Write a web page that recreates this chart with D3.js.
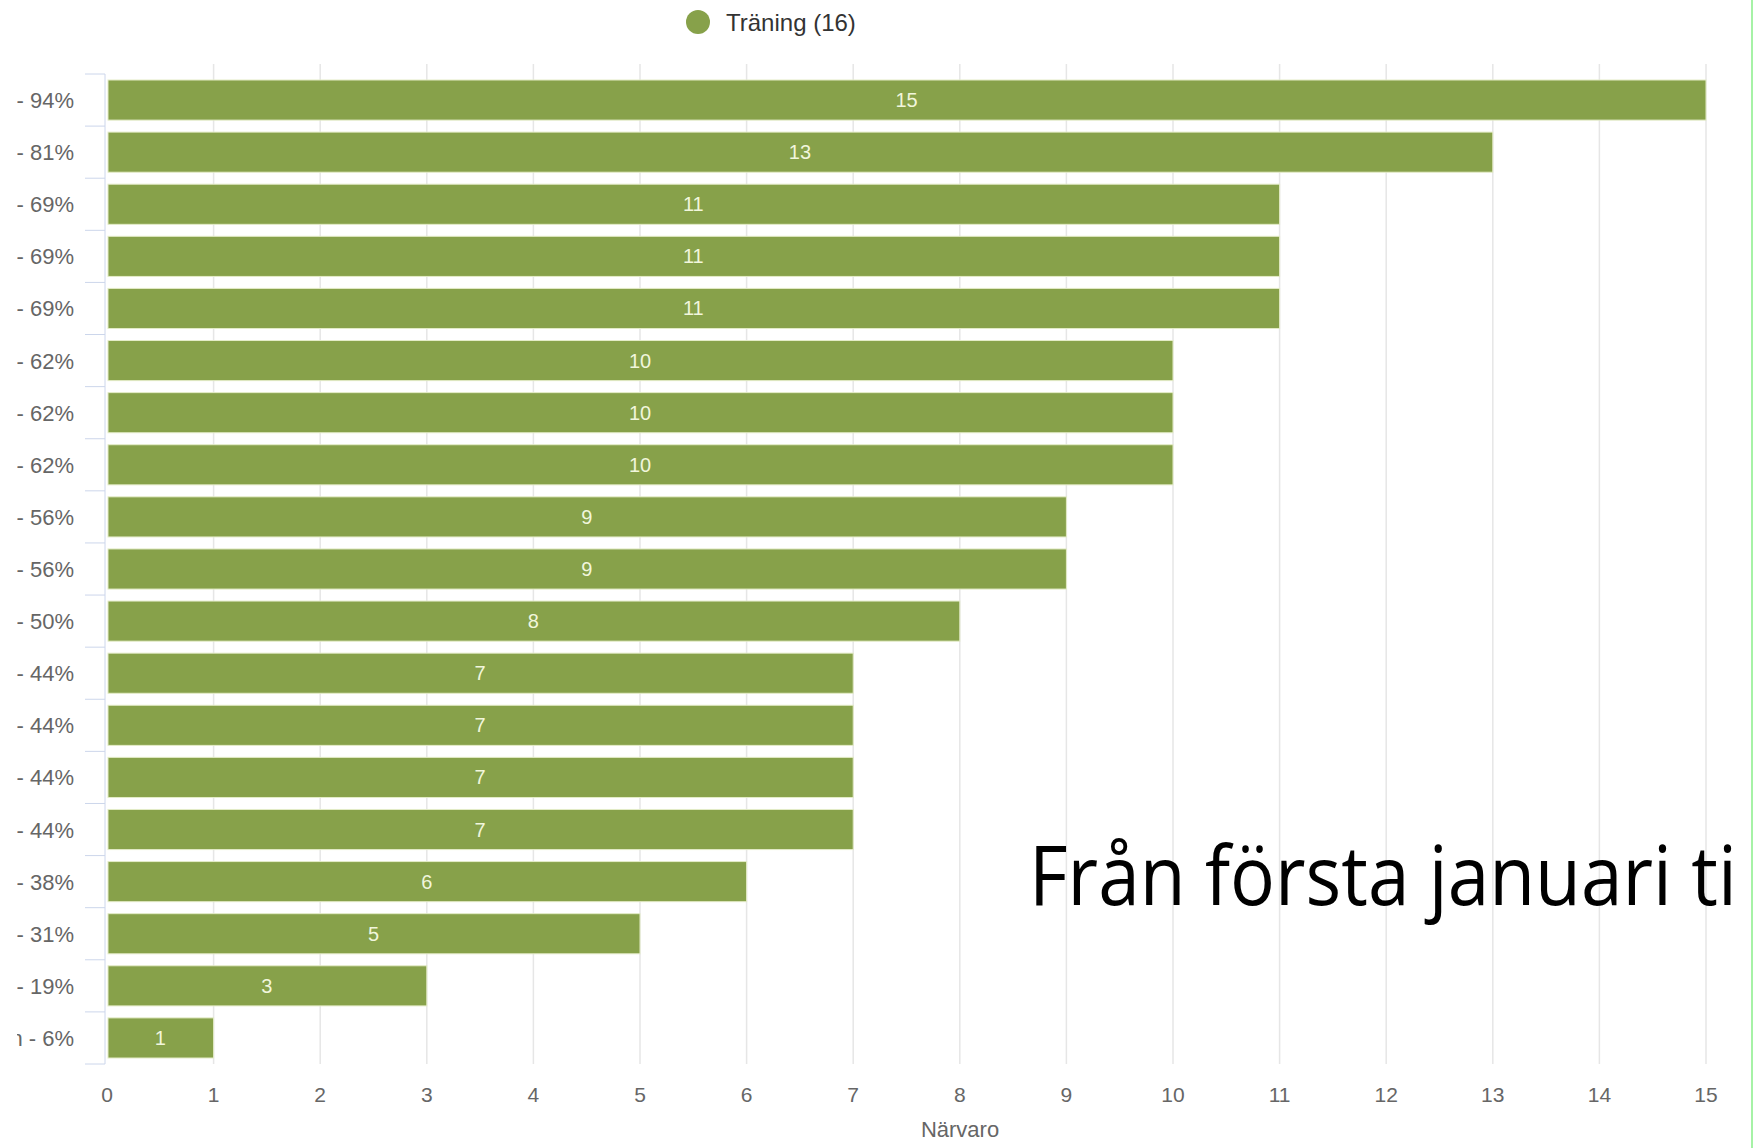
<!DOCTYPE html>
<meta charset="utf-8">
<script src="https://d3js.org/d3.v7.min.js"></script>
<style>
  body { margin: 0; background: #fff; }
</style>
<div id="chart"></div>
<script>

// data
var labels = ["- 94%", "- 81%", "- 69%", "- 69%", "- 69%", "- 62%", "- 62%", "- 62%", "- 56%", "- 56%",
              "- 50%", "- 44%", "- 44%", "- 44%", "- 44%", "- 38%", "- 31%", "- 19%", "n - 6%"];
var values = [15, 13, 11, 11, 11, 10, 10, 10, 9, 9, 8, 7, 7, 7, 7, 6, 5, 3, 1];
var xTicks = [0, 1, 2, 3, 4, 5, 6, 7, 8, 9, 10, 11, 12, 13, 14, 15];
var seriesName = "Träning (16)";
var axisTitle = "Närvaro";
var overlayText = "Från första januari ti";

var W = 1758, H = 1148;
var margin = {top: 74, left: 107, right: 52, bottom: 84};
var barColor = "#87a14a";
var font = "'Liberation Sans', Arial, sans-serif";

var svg = d3.select("#chart").append("svg")
    .attr("width", W)
    .attr("height", H)
    .style("font-family", font);

var x = d3.scaleLinear()
    .domain([0, 15])
    .range([margin.left, 1706]);

var y = d3.scaleBand()
    .domain(d3.range(labels.length))
    .range([margin.top, H - margin.bottom])
    .paddingInner(0.23)
    .paddingOuter(0.115);

var yBand = d3.scaleBand()
    .domain(d3.range(labels.length))
    .range([margin.top, H - margin.bottom]);

// vertical grid lines
svg.append("g")
  .selectAll("line")
  .data(xTicks.slice(1))
  .enter().append("line")
    .attr("x1", function(d) { return x(d); })
    .attr("x2", function(d) { return x(d); })
    .attr("y1", 64)
    .attr("y2", H - margin.bottom)
    .attr("stroke", "#e6e6e6")
    .attr("stroke-width", 1.5);

// category axis: line + ticks at band edges
var yAxis = svg.append("g");
yAxis.append("line")
    .attr("x1", 105).attr("x2", 105)
    .attr("y1", margin.top).attr("y2", H - margin.bottom)
    .attr("stroke", "#ccd6eb");
yAxis.selectAll("line.tick")
  .data(d3.range(labels.length + 1))
  .enter().append("line")
    .attr("class", "tick")
    .attr("x1", 85).attr("x2", 105)
    .attr("y1", function(i) { return i < labels.length ? yBand(i) : yBand(i - 1) + yBand.bandwidth(); })
    .attr("y2", function(i) { return i < labels.length ? yBand(i) : yBand(i - 1) + yBand.bandwidth(); })
    .attr("stroke", "#ccd6eb");

// category labels (clipped at the left like the screenshot)
svg.append("clipPath").attr("id", "lblclip")
  .append("rect").attr("x", 17).attr("y", 0).attr("width", 90).attr("height", H);
svg.append("g")
    .attr("clip-path", "url(#lblclip)")
  .selectAll("text")
  .data(labels)
  .enter().append("text")
    .attr("x", 74)
    .attr("y", function(d, i) { return yBand(i) + yBand.bandwidth() / 2 + 8; })
    .attr("text-anchor", "end")
    .attr("font-size", 22)
    .attr("fill", "#666666")
    .text(function(d) { return d; });

// bars
svg.append("g")
  .selectAll("rect")
  .data(values)
  .enter().append("rect")
    .attr("x", x(0) + 1)
    .attr("y", function(d, i) { return y(i); })
    .attr("width", function(d) { return x(d) - x(0) - 1; })
    .attr("height", y.bandwidth())
    .attr("fill", barColor)
    .attr("stroke", "#e4ecc8")
    .attr("stroke-width", 1);

// data labels
svg.append("g")
  .selectAll("text")
  .data(values)
  .enter().append("text")
    .attr("x", function(d) { return x(d / 2); })
    .attr("y", function(d, i) { return y(i) + y.bandwidth() / 2 + 7; })
    .attr("text-anchor", "middle")
    .attr("font-size", 20)
    .attr("fill", "#f1f6dc")
    .text(function(d) { return d; });

// x axis tick labels
svg.append("g")
  .selectAll("text")
  .data(xTicks)
  .enter().append("text")
    .attr("x", function(d) { return x(d); })
    .attr("y", 1102)
    .attr("text-anchor", "middle")
    .attr("font-size", 21)
    .attr("fill", "#666666")
    .text(function(d) { return d; });

svg.append("text")
    .attr("x", 960)
    .attr("y", 1137)
    .attr("text-anchor", "middle")
    .attr("font-size", 22)
    .attr("fill", "#666666")
    .text(axisTitle);

// legend
svg.append("circle")
    .attr("cx", 698).attr("cy", 22).attr("r", 12)
    .attr("fill", barColor);
svg.append("text")
    .attr("x", 726).attr("y", 31)
    .attr("font-size", 24)
    .attr("fill", "#333333")
    .text(seriesName);

// big overlay text, squeezed horizontally to fit before the right edge
var big = svg.append("text")
    .attr("x", 0).attr("y", 0)
    .style("font-family", "'Open Sans', 'Noto Sans', sans-serif")
    .attr("font-size", 82)
    .attr("fill", "#000")
    .text(overlayText);
var bw = big.node().getComputedTextLength();
big.attr("transform", "translate(1029,905) scale(" + (708 / bw) + ",1)");

// green edge line on the right
svg.append("line")
    .attr("x1", 1752).attr("x2", 1752)
    .attr("y1", 0).attr("y2", H)
    .attr("stroke", "#a6f2a6")
    .attr("stroke-width", 2);

</script>
